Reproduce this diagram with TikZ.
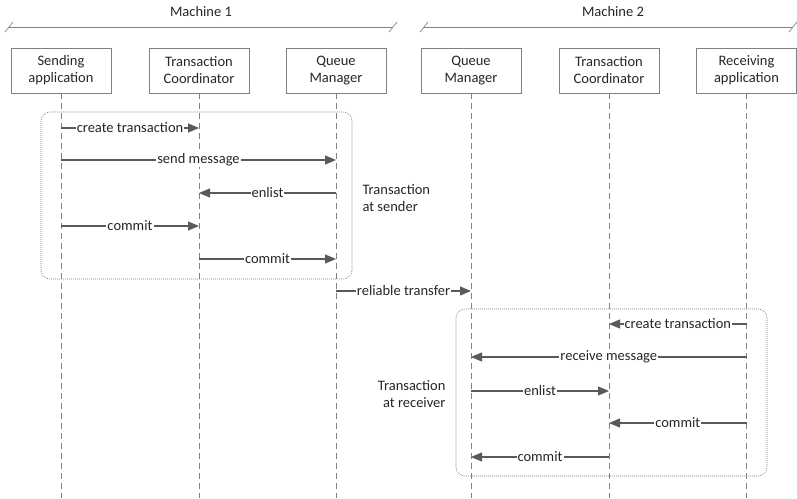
\documentclass[tikz,border=0pt]{standalone}
\usepackage{fontspec}
\setmainfont{Carlito}
\usetikzlibrary{arrows.meta}
\definecolor{ink}{HTML}{262626}
\definecolor{arr}{HTML}{5A5A5A}
\definecolor{frame}{HTML}{808080}
\tikzset{
  txt/.style={font=\fontsize{14.5}{17}\selectfont, text=ink},
  actor/.style={txt, draw=frame, line width=0.8pt, minimum width=100pt,
    minimum height=45pt, align=center, inner sep=0pt},
  life/.style={draw=frame, line width=0.7pt, dash pattern=on 6pt off 4pt},
  msg/.style={draw=arr, line width=1.1pt, -{Triangle[length=11pt,width=9pt]}},
  lbl/.style={txt, fill=white, inner sep=1pt},
  group/.style={draw=frame, line width=0.6pt, dash pattern=on 1pt off 1pt,
    rounded corners=9pt},
  machine/.style={draw=frame, line width=0.7pt}
}
\begin{document}
\begin{tikzpicture}[x=1pt, y=-1pt]
\useasboundingbox (0,0) rectangle (797,498);

% machine brackets
\node[txt] (m1) at (201,12) {Machine 1};
\draw[machine] (9,27) -- (393,27);
\draw[machine] (5,32) -- (13,22);
\draw[machine] (389,32) -- (397,22);
\node[txt] (m2) at (613,12) {Machine 2};
\draw[machine] (424,27) -- (793,27);
\draw[machine] (420,32) -- (428,22);
\draw[machine] (789,32) -- (797,22);

% participants
\node[actor] (s)   at (61,70.5)  {Sending\\application};
\node[actor] (tc1) at (199,70.5) {Transaction\\Coordinator};
\node[actor] (qm1) at (336,70.5) {Queue\\Manager};
\node[actor] (qm2) at (471,70.5) {Queue\\Manager};
\node[actor] (tc2) at (609,70.5) {Transaction\\Coordinator};
\node[actor] (r)   at (746.5,70.5) {Receiving\\application};

% lifelines
\coordinate (bot) at (0,498);
\foreach \p in {s,tc1,qm1,qm2,tc2,r}
  \draw[life] (\p.south) -- (\p |- bot);

% transaction groups
\draw[group] (41,112) rectangle (352,279);
\draw[group] (456,309) rectangle (767,476);
\node[txt, align=left, anchor=west] (ts) at (359,198) {Transaction\\at sender};
\node[txt, align=right, anchor=east] (tr) at (449,394) {Transaction\\at receiver};

% message rows
\coordinate (y1) at (0,128);
\coordinate (y2) at (0,160);
\coordinate (y3) at (0,193);
\coordinate (y4) at (0,226);
\coordinate (y5) at (0,259);
\coordinate (y6) at (0,291);
\coordinate (y7) at (0,324);
\coordinate (y8) at (0,357);
\coordinate (y9) at (0,391);
\coordinate (y10) at (0,423);
\coordinate (y11) at (0,457);

% sender side
\draw[msg] (s |- y1) -- node[lbl] {create transaction} (tc1 |- y1);
\draw[msg] (s |- y2) -- node[lbl] {send message} (qm1 |- y2);
\draw[msg] (qm1 |- y3) -- node[lbl] {enlist} (tc1 |- y3);
\draw[msg] (s |- y4) -- node[lbl] {commit} (tc1 |- y4);
\draw[msg] (tc1 |- y5) -- node[lbl] {commit} (qm1 |- y5);

% transfer
\draw[msg] (qm1 |- y6) -- node[lbl] {reliable transfer} (qm2 |- y6);

% receiver side
\draw[msg] (r |- y7) -- node[lbl] {create transaction} (tc2 |- y7);
\draw[msg] (r |- y8) -- node[lbl] {receive message} (qm2 |- y8);
\draw[msg] (qm2 |- y9) -- node[lbl] {enlist} (tc2 |- y9);
\draw[msg] (r |- y10) -- node[lbl] {commit} (tc2 |- y10);
\draw[msg] (tc2 |- y11) -- node[lbl] {commit} (qm2 |- y11);
\end{tikzpicture}
\end{document}
